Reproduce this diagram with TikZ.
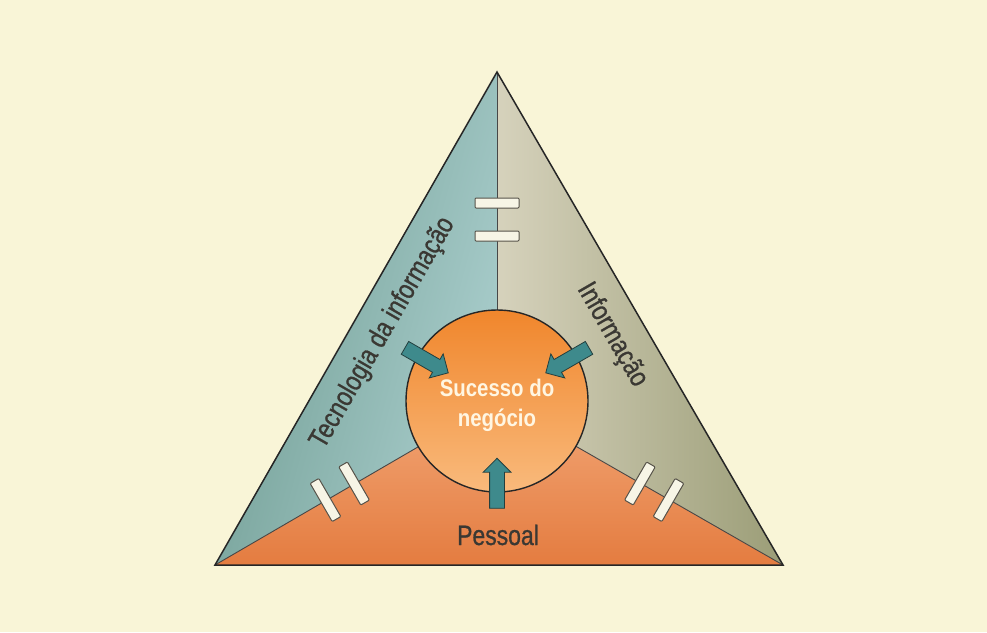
\documentclass[tikz,border=0pt]{standalone}
\usepackage{fontspec}
\usetikzlibrary{shapes.arrows}
\newfontfamily\lblfont[FakeStretch=0.82, FakeBold=0.8]{Liberation Sans}
\newfontfamily\hdfont[FakeStretch=0.85]{Liberation Sans}
\definecolor{bgc}{HTML}{F9F5D7}
\definecolor{tealdark}{HTML}{6D9A90}
\definecolor{teallight}{HTML}{ABCFCE}
\definecolor{khakilight}{HTML}{D6D2BC}
\definecolor{olivedark}{HTML}{9B9D77}
\definecolor{orlight}{HTML}{F2A676}
\definecolor{ordark}{HTML}{E47C40}
\definecolor{coretop}{HTML}{F0862C}
\definecolor{corebot}{HTML}{F9BA7C}
\definecolor{arrowfill}{HTML}{3E8A8C}
\definecolor{arrowline}{HTML}{233F3E}
\definecolor{inkc}{HTML}{3A3833}
\definecolor{headc}{HTML}{FFF6E2}
\definecolor{barfill}{HTML}{F7F5E6}
\definecolor{barline}{HTML}{57534A}
\tikzset{
  edge/.style={draw=black!85, line width=1.5pt, line join=miter},
  divider/.style={draw=black!72, line width=0.9pt},
  barmark/.style={rectangle, draw=barline, fill=barfill, line width=1pt,
    minimum width=44pt, minimum height=10pt, inner sep=0pt, rounded corners=1pt},
  inarrow/.style={single arrow, draw=arrowline, fill=arrowfill, line width=0.8pt,
    minimum height=50pt, inner xsep=0pt, inner ysep=7pt, single arrow head extend=6.5pt},
  lbl/.style={text=inkc, inner sep=0pt, font=\lblfont\fontsize{28}{30}\selectfont},
  hd/.style={text=headc, inner sep=0pt, align=center,
    font=\hdfont\bfseries\fontsize{24}{30}\selectfont}
}
\begin{document}
\begin{tikzpicture}[x=1pt,y=-1pt]
\fill[bgc] (0,0) rectangle (987,632);
\useasboundingbox (0,0) rectangle (987,632);
\coordinate (A) at (497,72);
\coordinate (B) at (215,565);
\coordinate (D) at (783,565);
\coordinate (O) at (497,401);
% regions
\shade[left color=tealdark, right color=teallight, shading angle=75] (A) -- (O) -- (B) -- cycle;
\shade[left color=khakilight, right color=olivedark] (A) -- (O) -- (D) -- cycle;
\shade[top color=orlight, bottom color=ordark] (B) -- (O) -- (D) -- cycle;
\draw[divider] (O) -- (A);
\draw[divider] (O) -- (B);
\draw[divider] (O) -- (D);
% core circle
\node[circle, draw=black!85, line width=1.4pt, minimum size=182pt, inner sep=0pt,
      top color=coretop, bottom color=corebot] (core) at (O) {};
\node[hd] (suc) at (497,405) {Sucesso do\\negócio};
% outline
\draw[edge] (A) -- (B) -- (D) -- cycle;
% break marks
\node[barmark] (t1) at (497,203) {};
\node[barmark] (t2) at (497,236) {};
\node[barmark, rotate=-60] (l1) at (325.5,500) {};
\node[barmark, rotate=-60] (l2) at (354.1,483.5) {};
\node[barmark, rotate=60] (r1) at (668.5,500) {};
\node[barmark, rotate=60] (r2) at (639.9,483.5) {};
% arrows
\node[inarrow, rotate=-30] (al) at (423.4,358.5) {};
\node[inarrow, rotate=-150] (ar) at (570.6,358.5) {};
\node[inarrow, rotate=90] (ab) at (497,487) {};
% labels
\node[lbl, rotate=60] (tec) at (383,333) {Tecnologia da informação};
\node[lbl, rotate=-60] (inf) at (612,335) {Informação};
\node[lbl, anchor=base] (pes) at (498,545) {Pessoal};
\end{tikzpicture}
\end{document}
